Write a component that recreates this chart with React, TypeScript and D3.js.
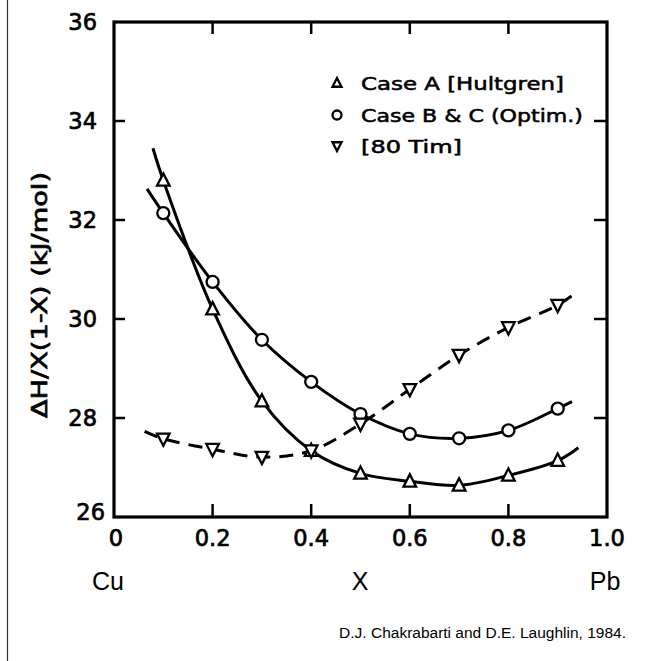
import React from "react";
import * as d3 from "d3";

// X positions (mole fraction Pb) for the measured/calculated points
const xPoints = [0.1, 0.2, 0.3, 0.4, 0.5, 0.6, 0.7, 0.8, 0.9];

// Case A [Hultgren] (triangles)
const caseA = [32.8, 30.2, 28.34, 27.34, 26.88, 26.72, 26.64, 26.84, 27.14];
const caseAStart = [0.079, 33.45];
const caseAEnd = [0.942, 27.4];

// Case B & C (Optim.) (circles)
const caseBC = [32.14, 30.75, 29.58, 28.73, 28.08, 27.68, 27.59, 27.75, 28.19];
const caseBCStart = [0.067, 32.63];
const caseBCEnd = [0.929, 28.33];

// [80 Tim] (inverted triangles, dashed)
const tim = [27.58, 27.37, 27.21, 27.34, 27.88, 28.58, 29.27, 29.83, 30.28];
const timStart = [0.062, 27.73];
const timEnd = [0.93, 30.48];

const xTicks = [0, 0.2, 0.4, 0.6, 0.8, 1.0];
const xTickLabels = ["0", "0.2", "0.4", "0.6", "0.8", "1.0"];
const yTicks = [26, 28, 30, 32, 34, 36];

const legendLabels = ["Case A [Hultgren]", "Case B & C (Optim.)", "[80 Tim]"];
const legendWidths = [203, 222, 101];

const W = 645;
const H = 661;
const x = d3.scaleLinear().domain([0, 1]).range([114, 607]);
const y = d3.scaleLinear().domain([26, 36]).range([517, 22]);

function seriesPts(vals: number[], s: number[], e: number[]): [number, number][] {
  const pts: [number, number][] = [[s[0], s[1]]];
  xPoints.forEach((xv, i) => pts.push([xv, vals[i]]));
  pts.push([e[0], e[1]]);
  return pts;
}

const line = d3
  .line<[number, number]>()
  .x((d) => x(d[0]))
  .y((d) => y(d[1]))
  .curve(d3.curveCatmullRom.alpha(0.5));

const triUp = (cx: number, cy: number, s: number) =>
  `M${cx},${cy - s} L${cx + s * 0.9},${cy + s * 0.75} L${cx - s * 0.9},${cy + s * 0.75} Z`;
const triDown = (cx: number, cy: number, s: number) =>
  `M${cx},${cy + s} L${cx + s * 0.9},${cy - s * 0.75} L${cx - s * 0.9},${cy - s * 0.75} Z`;

export default function App() {
  const font = "'DejaVu Sans', sans-serif";
  const hel = "'Liberation Sans', Arial, sans-serif";
  const aPts = seriesPts(caseA, caseAStart, caseAEnd);
  const bPts = seriesPts(caseBC, caseBCStart, caseBCEnd);
  const tPts = seriesPts(tim, timStart, timEnd);
  const x0 = x(0), x1 = x(1), y0 = y(26), y1 = y(36);
  const heavy = { stroke: "#000", strokeWidth: 0.7 };
  return (
    <svg
      width={W}
      height={H}
      style={{ position: "fixed", left: 0, top: 0, background: "#fff" }}
      xmlns="http://www.w3.org/2000/svg"
    >
      <rect x={0} y={0} width={W} height={H} fill="#fff" />
      {/* page edge line */}
      <line x1={7.5} y1={0} x2={7.5} y2={H} stroke="#333" strokeWidth={1.2} />

      {/* ticks */}
      {yTicks.slice(1, -1).map((t) => (
        <g key={"yt" + t}>
          <line x1={x0} x2={x0 + 11} y1={y(t)} y2={y(t)} stroke="#000" strokeWidth={2.5} />
          <line x1={x1 - 13} x2={x1} y1={y(t)} y2={y(t)} stroke="#000" strokeWidth={2.5} />
        </g>
      ))}
      {xTicks.slice(1, -1).map((t) => (
        <g key={"xt" + t}>
          <line x1={x(t)} x2={x(t)} y1={y0} y2={y0 - 13} stroke="#000" strokeWidth={2.5} />
          <line x1={x(t)} x2={x(t)} y1={y1} y2={y1 + 12} stroke="#000" strokeWidth={2.5} />
        </g>
      ))}
      {/* frame */}
      <rect x={x0} y={y1} width={x1 - x0} height={y0 - y1} fill="none" stroke="#000" strokeWidth={3.2} />

      {/* y tick labels */}
      {yTicks.map((t) => (
        <text
          key={"yl" + t}
          x={t === 26 ? x0 - 9 : x0 - 17}
          y={t === 26 ? y(t) + 3 : y(t) + 8}
          textAnchor="end"
          fontFamily={font}
          fontSize={22.5}
          fill="#000"
          {...heavy}
        >
          {t}
        </text>
      ))}
      {/* x tick labels */}
      {xTicks.map((t, i) => (
        <text
          key={"xl" + t}
          x={x(t) + (i === 0 ? 2 : 0)}
          y={y0 + 29}
          textAnchor="middle"
          fontFamily={font}
          fontSize={22.5}
          fill="#000"
          {...heavy}
        >
          {xTickLabels[i]}
        </text>
      ))}
      <text x={108} y={590} textAnchor="middle" fontFamily={hel} fontSize={25} fill="#000">Cu</text>
      <text x={360} y={590} textAnchor="middle" fontFamily={hel} fontSize={25} fill="#000">X</text>
      <text x={605} y={590} textAnchor="middle" fontFamily={hel} fontSize={25} fill="#000">Pb</text>

      {/* y axis title */}
      <text
        transform={`translate(47, 295) rotate(-90)`}
        textAnchor="middle"
        fontFamily={font}
        fontSize={21}
        textLength={246}
        lengthAdjust="spacingAndGlyphs"
        fill="#000"
        {...heavy}
      >
        ΔH/X(1-X)  (kJ/mol)
      </text>

      {/* curves */}
      <path d={line(aPts) || ""} fill="none" stroke="#000" strokeWidth={3} />
      <path d={line(bPts) || ""} fill="none" stroke="#000" strokeWidth={3} />
      <path d={line(tPts) || ""} fill="none" stroke="#000" strokeWidth={3} strokeDasharray="14,9" />

      {/* markers */}
      {xPoints.map((xv, i) => (
        <path key={"ma" + i} d={triUp(x(xv), y(caseA[i]), 7)} fill="#fff" stroke="#000" strokeWidth={2.3} />
      ))}
      {xPoints.map((xv, i) => (
        <circle key={"mb" + i} cx={x(xv)} cy={y(caseBC[i])} r={6} fill="#fff" stroke="#000" strokeWidth={2.3} />
      ))}
      {xPoints.map((xv, i) => (
        <path key={"mt" + i} d={triDown(x(xv), y(tim[i]), 7)} fill="#fff" stroke="#000" strokeWidth={2.3} />
      ))}

      {/* legend */}
      <path d={triUp(337, 83, 5)} fill="#fff" stroke="#000" strokeWidth={2.3} />
      <circle cx={337} cy={115} r={4.5} fill="#fff" stroke="#000" strokeWidth={2.3} />
      <path d={triDown(337, 146, 5)} fill="#fff" stroke="#000" strokeWidth={2.3} />
      {legendLabels.map((l, i) => (
        <text
          key={"lg" + i}
          x={361}
          y={90 + i * 31.5}
          fontFamily={font}
          fontSize={18.5}
          textLength={legendWidths[i]}
          lengthAdjust="spacingAndGlyphs"
          fill="#000"
          stroke="#000"
          strokeWidth={0.55}
        >
          {l}
        </text>
      ))}

      {/* caption */}
      <text
        x={626}
        y={638}
        textAnchor="end"
        fontFamily={hel}
        fontSize={15.5}
        fill="#000"
      >
        D.J. Chakrabarti and D.E. Laughlin, 1984.
      </text>
    </svg>
  );
}
